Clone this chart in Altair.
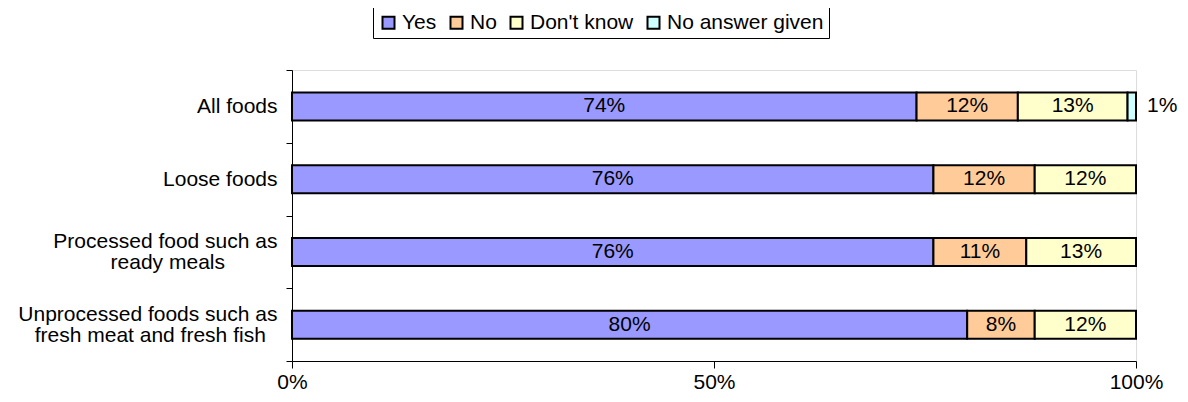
import altair as alt
import pandas as pd

PAD = "\u00a0"
END = "\u200b"
categories = [
    "All foods",
    "Loose foods",
    "Processed food such as|ready meals" + PAD * 9 + END,
    "Unprocessed foods such as|fresh meat and fresh fish" + PAD * 2 + END,
]
responses = ["Yes", "No", "Don't know", "No answer given"]
yes = [74, 76, 76, 80]
no = [12, 12, 11, 8]
dont_know = [13, 12, 13, 12]
no_answer = [1, 0, 0, 0]
colors = ["#9999FF", "#FFCC99", "#FFFFCC", "#CCFFFF"]
x_ticks = [0, 50, 100]

series = [yes, no, dont_know, no_answer]
rows = []
for ri, (resp, vals) in enumerate(zip(responses, series)):
    for ci, cat in enumerate(categories):
        rows.append({"category": cat, "response": resp, "order": ri, "value": vals[ci]})
df = pd.DataFrame(rows)

FONT = "Liberation Sans"
FS = 21

y_scale = alt.Scale(domain=categories, paddingInner=0, paddingOuter=0)

y_enc = alt.Y(
    "category:N",
    sort=categories,
    title=None,
    scale=y_scale,
    axis=alt.Axis(
        labelExpr="split(datum.label, '|')",
        tickBand="extent",
        labelFont=FONT,
        labelFontSize=FS,
        labelColor="black",
        labelLimit=400,
        labelPadding=9,
        labelLineHeight=21,
        labelOffset={"condition": {"test": "indexof(datum.label, '|') >= 0", "value": -10}, "value": 0},
        tickSize=6,
        tickColor="black",
        domainColor="black",
        grid=False,
    ),
)

x_scale = alt.Scale(domain=[0, 100], nice=False)

base = alt.Chart(df).transform_filter("datum.value > 0").transform_stack(
    stack="value",
    groupby=["category"],
    sort=[alt.SortField("order", order="ascending")],
    as_=["x0", "x1"],
).transform_calculate(mid="(datum.x0 + datum.x1) / 2", lab="datum.value + '%'")

bars = base.mark_bar(stroke="black", strokeWidth=2, size=28).encode(
    x=alt.X(
        "x0:Q",
        scale=x_scale,
        title=None,
        axis=alt.Axis(
            values=x_ticks,
            labelExpr="datum.value + '%'",
            labelFlush=False,
            labelFont=FONT,
            labelFontSize=FS,
            labelColor="black",
            labelPadding=3,
            tickSize=7,
            tickColor="black",
            domainColor="black",
            grid=False,
        ),
    ),
    x2="x1:Q",
    y=y_enc,
    color=alt.Color(
        "response:N",
        scale=alt.Scale(domain=responses, range=colors),
        sort=responses,
        legend=alt.Legend(
            title=None,
            orient="none",
            legendX=81,
            legendY=-63,
            direction="horizontal",
            symbolType="square",
            symbolSize=144,
            symbolStrokeColor="black",
            symbolStrokeWidth=2,
            symbolOpacity=1,
            labelFont=FONT,
            labelFontSize=FS,
            labelColor="black",
            labelOffset=3,
            columnPadding=9,
            padding=5,
            strokeColor="black",
        ),
    ),
    order=alt.Order("order:Q"),
)

inside = base.transform_filter("datum.value >= 5").mark_text(
    font=FONT, fontSize=FS, color="black", baseline="middle", align="center"
).encode(x=alt.X("mid:Q", scale=x_scale), y=alt.Y("category:N", sort=categories, scale=y_scale), text="lab:N")

outside = base.transform_filter("datum.value < 5").mark_text(
    font=FONT, fontSize=FS, color="black", baseline="middle", align="left", dx=11
).encode(x=alt.X("x1:Q", scale=x_scale), y=alt.Y("category:N", sort=categories, scale=y_scale), text="lab:N")

chart = alt.layer(bars, inside, outside).properties(
    width=844,
    height=291,
    autosize=alt.AutoSizeParams(type="none"),
    padding={"left": 284, "top": 62, "right": 44, "bottom": 33},
).configure_view(stroke=None).configure(background="white")

chart.save("out.html", embed_options={"renderer": "svg", "actions": False})
